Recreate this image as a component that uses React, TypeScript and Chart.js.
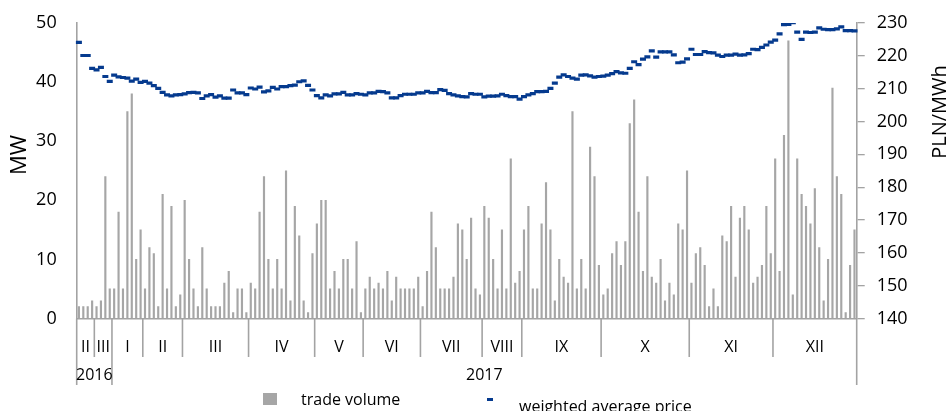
import React, { useEffect, useRef } from 'react';
import { Chart, registerables } from 'chart.js';

Chart.register(...registerables);

// ---- data ----
const monthLabels = ['II', 'III', 'I', 'II', 'III', 'IV', 'V', 'VI', 'VII', 'VIII', 'IX', 'X', 'XI', 'XII'];
const monthSessionCounts = [4, 4, 7, 9, 15, 15, 11, 13, 14, 9, 18, 20, 19, 19];
const yearLabels = ['2016', '2017'];
const yearMonthCounts = [2, 12];

const tradeVolume = [
  // II 2016
  2, 2, 2, 3,
  // III 2016
  2, 3, 24, 5,
  // I
  5, 18, 5, 35, 38, 10, 15,
  // II
  5, 12, 11, 2, 21, 5, 19, 2, 4,
  // III
  20, 10, 5, 2, 12, 5, 2, 2, 2, 6, 8, 1, 5, 5, 1,
  // IV
  6, 5, 18, 24, 10, 5, 10, 5, 25, 3, 19, 14, 3, 1, 11,
  // V
  16, 20, 20, 5, 8, 5, 10, 10, 5, 13, 1,
  // VI
  5, 7, 5, 6, 5, 8, 3, 7, 5, 5, 5, 5, 7,
  // VII
  2, 8, 18, 12, 5, 5, 5, 7, 16, 15, 10, 17, 5, 4,
  // VIII
  19, 17, 10, 5, 15, 5, 27, 6, 8,
  // IX
  15, 19, 5, 5, 16, 23, 15, 3, 10, 7, 6, 35, 5, 10, 5, 29, 24, 9,
  // X
  4, 5, 11, 13, 9, 13, 33, 37, 18, 8, 24, 7, 6, 10, 3, 6, 4, 16, 15, 25,
  // XI
  6, 11, 12, 9, 2, 5, 2, 14, 13, 19, 7, 17, 19, 15, 6, 7, 9, 19, 11,
  // XII
  27, 8, 31, 47, 4, 27, 21, 19, 16, 22, 12, 3, 10, 39, 24, 21, 1, 9, 15,
];

const weightedPrice = [
  // II 2016
  224.1, 220.1, 220.1, 216.2,
  // III 2016
  215.7, 216.5, 213.7, 212.2,
  // I
  214.1, 213.6, 213.4, 213.2, 212.3, 212.9, 211.9,
  // II
  212.2, 211.7, 210.9, 210.1, 208.9, 208.1, 207.8, 208.1, 208.2,
  // III
  208.4, 208.8, 208.9, 208.7, 207.0, 207.8, 208.2, 207.4, 207.8, 207.1, 207.1, 209.6, 208.7, 208.7, 208.2,
  // IV
  210.2, 209.9, 210.5, 209.0, 209.3, 210.4, 209.9, 210.6, 210.6, 210.9, 211.1, 212.1, 212.4, 211.0, 209.6,
  // V
  207.9, 207.2, 208.1, 207.8, 208.4, 208.4, 208.9, 208.1, 208.1, 208.5, 208.3,
  // VI
  208.1, 208.7, 208.7, 209.2, 209.1, 208.7, 207.2, 207.2, 207.9, 208.3, 208.3, 208.3, 208.7,
  // VII
  208.7, 209.2, 208.8, 208.8, 209.7, 209.5, 208.5, 208.1, 207.8, 207.6, 207.5, 208.5, 208.3, 208.3,
  // VIII
  207.5, 207.7, 207.7, 207.8, 208.3, 207.9, 207.6, 207.6, 206.8,
  // IX
  207.6, 208.1, 208.5, 209.1, 209.1, 209.2, 210.1, 211.7, 213.5, 214.2, 213.7, 213.2, 212.9, 214.1, 214.2, 213.9, 213.5, 213.7,
  // X
  213.8, 214.1, 214.6, 215.2, 214.8, 214.7, 216.2, 218.2, 217.3, 219.0, 219.7, 221.5, 219.6, 221.2, 221.2, 221.2, 220.3, 217.9, 218.1, 219.1,
  // XI
  222.0, 220.4, 220.4, 221.3, 221.0, 220.9, 220.2, 219.8, 220.2, 220.2, 220.5, 220.2, 220.3, 220.7, 222.0, 221.9, 222.6, 223.3, 224.2,
  // XII
  224.8, 226.7, 229.5, 229.6, 230.1, 227.2, 225.0, 227.2, 227.1, 227.2, 228.5, 228.1, 228.0, 228.0, 228.2, 228.8, 227.7, 227.7, 227.6,
];

const seriesNames = ['trade volume', 'weighted average price'];
const leftAxisTitle = 'MW';
const rightAxisTitle = 'PLN/MWh';

// category labels built from month lists
const categories: string[] = [];
{
  let yi = 0;
  let inYear = 0;
  monthLabels.forEach((ml, mi) => {
    for (let k = 0; k < monthSessionCounts[mi]; k++) {
      categories.push(`${ml} ${yearLabels[yi]} #${k + 1}`);
    }
    inYear++;
    if (inYear >= yearMonthCounts[yi]) {
      yi++;
      inYear = 0;
    }
  });
}

const FONT = "'Open Sans', 'Noto Sans', sans-serif";
const AXIS_GRAY = '#a3a3a3';
const BAR_GRAY = '#a6a6a6';
const PRICE_BLUE = '#053a8e';

const overlayPlugin = {
  id: 'overlayPlugin',
  afterDraw(chart: any) {
    const ctx: CanvasRenderingContext2D = chart.ctx;
    const xs = chart.scales.x;
    const area = chart.chartArea;
    const n = categories.length;
    const boundary = (i: number) => {
      if (i <= 0) return xs.left;
      if (i >= n) return xs.right;
      return (xs.getPixelForValue(i - 1) + xs.getPixelForValue(i)) / 2;
    };
    const bottom = area.bottom;
    ctx.save();
    ctx.strokeStyle = AXIS_GRAY;
    ctx.lineWidth = 1.6;
    const monthStarts: number[] = [0];
    monthSessionCounts.forEach((c, i) => monthStarts.push(monthStarts[i] + c));
    const yearStartMonths: number[] = [0];
    yearMonthCounts.forEach((c, i) => yearStartMonths.push(yearStartMonths[i] + c));
    const yearBoundaryIdx = yearStartMonths.map((m) => monthStarts[m]);
    monthStarts.forEach((idx) => {
      const px = boundary(idx);
      const isYear = yearBoundaryIdx.includes(idx);
      ctx.beginPath();
      ctx.moveTo(px, bottom);
      ctx.lineTo(px, isYear ? 385 : 357);
      ctx.stroke();
    });
    ctx.fillStyle = '#000';
    ctx.textAlign = 'center';
    ctx.textBaseline = 'alphabetic';
    ctx.font = `16px ${FONT}`;
    monthLabels.forEach((ml, i) => {
      const cx = (boundary(monthStarts[i]) + boundary(monthStarts[i + 1])) / 2;
      ctx.fillText(ml, cx, 352);
    });
    yearLabels.forEach((yl, i) => {
      const a = boundary(yearBoundaryIdx[i]);
      const b = boundary(yearBoundaryIdx[i + 1]);
      ctx.fillText(yl, (a + b) / 2, 380);
    });
    ctx.font = `22px ${FONT}`;
    ctx.textBaseline = 'middle';
    ctx.save();
    ctx.translate(20, 155);
    ctx.rotate(-Math.PI / 2);
    ctx.fillText(leftAxisTitle, 0, 0);
    ctx.restore();
    ctx.font = `20px ${FONT}`;
    ctx.save();
    ctx.translate(940, 112);
    ctx.rotate(-Math.PI / 2);
    ctx.fillText(rightAxisTitle, 0, 0);
    ctx.restore();
    ctx.textAlign = 'left';
    ctx.textBaseline = 'alphabetic';
    ctx.font = `16px ${FONT}`;
    ctx.fillStyle = BAR_GRAY;
    ctx.fillRect(263, 393, 14, 12);
    ctx.fillStyle = '#000';
    ctx.fillText(seriesNames[0], 301, 405);
    ctx.fillStyle = PRICE_BLUE;
    ctx.fillRect(487, 398, 6, 3);
    ctx.fillStyle = '#000';
    ctx.fillText(seriesNames[1], 519, 412);
    ctx.restore();
  },
};

export default function App() {
  const canvasRef = useRef<HTMLCanvasElement | null>(null);

  useEffect(() => {
    const canvas = canvasRef.current;
    if (!canvas) return;
    const chart = new Chart(canvas, {
      type: 'bar',
      data: {
        labels: categories,
        datasets: [
          {
            type: 'line',
            label: seriesNames[1],
            data: weightedPrice,
            yAxisID: 'y1',
            showLine: false,
            pointStyle: 'line',
            pointRadius: 3,
            pointBorderWidth: 3.2,
            pointBorderColor: PRICE_BLUE,
            pointBackgroundColor: PRICE_BLUE,
            borderColor: PRICE_BLUE,
            order: 0,
          } as any,
          {
            type: 'bar',
            label: seriesNames[0],
            data: tradeVolume,
            yAxisID: 'y',
            backgroundColor: BAR_GRAY,
            barThickness: 1.5,
            order: 1,
          } as any,
        ],
      },
      options: {
        responsive: false,
        animation: false,
        devicePixelRatio: 1,
        layout: { padding: { top: 23, left: 0, right: 0, bottom: 0 } },
        plugins: {
          legend: { display: false },
          tooltip: { enabled: false },
          title: { display: false },
        },
        scales: {
          x: {
            type: 'category',
            offset: true,
            grid: { display: false, drawTicks: false },
            border: { display: true, color: AXIS_GRAY, width: 1.6 },
            ticks: { display: false },
            afterFit: (s: any) => {
              s.height = 92.5;
            },
          },
          y: {
            position: 'left',
            min: 0,
            max: 50,
            ticks: {
              stepSize: 10,
              padding: 0,
              color: '#000',
              font: { family: FONT, size: 18 },
            },
            grid: { display: false, drawTicks: true, tickLength: 20 },
            border: { display: true, color: AXIS_GRAY, width: 1.6 },
            afterFit: (s: any) => {
              s.width = 76.7;
            },
          },
          y1: {
            position: 'right',
            min: 140,
            max: 230,
            ticks: {
              stepSize: 10,
              padding: 12,
              color: '#000',
              font: { family: FONT, size: 18 },
            },
            grid: {
              display: true,
              drawOnChartArea: false,
              drawTicks: true,
              tickLength: 8,
              color: AXIS_GRAY,
              lineWidth: 1.3,
            },
            border: { display: true, color: AXIS_GRAY, width: 1.6 },
            afterFit: (s: any) => {
              s.width = 95.3;
            },
          },
        },
      } as any,
      plugins: [overlayPlugin],
    });
    return () => chart.destroy();
  }, []);

  return (
    <div style={{ position: 'fixed', left: 0, top: 0, width: 952, height: 411, background: '#fff' }}>
      <canvas ref={canvasRef} width={952} height={411} style={{ display: 'block', width: 952, height: 411 }} />
    </div>
  );
}
